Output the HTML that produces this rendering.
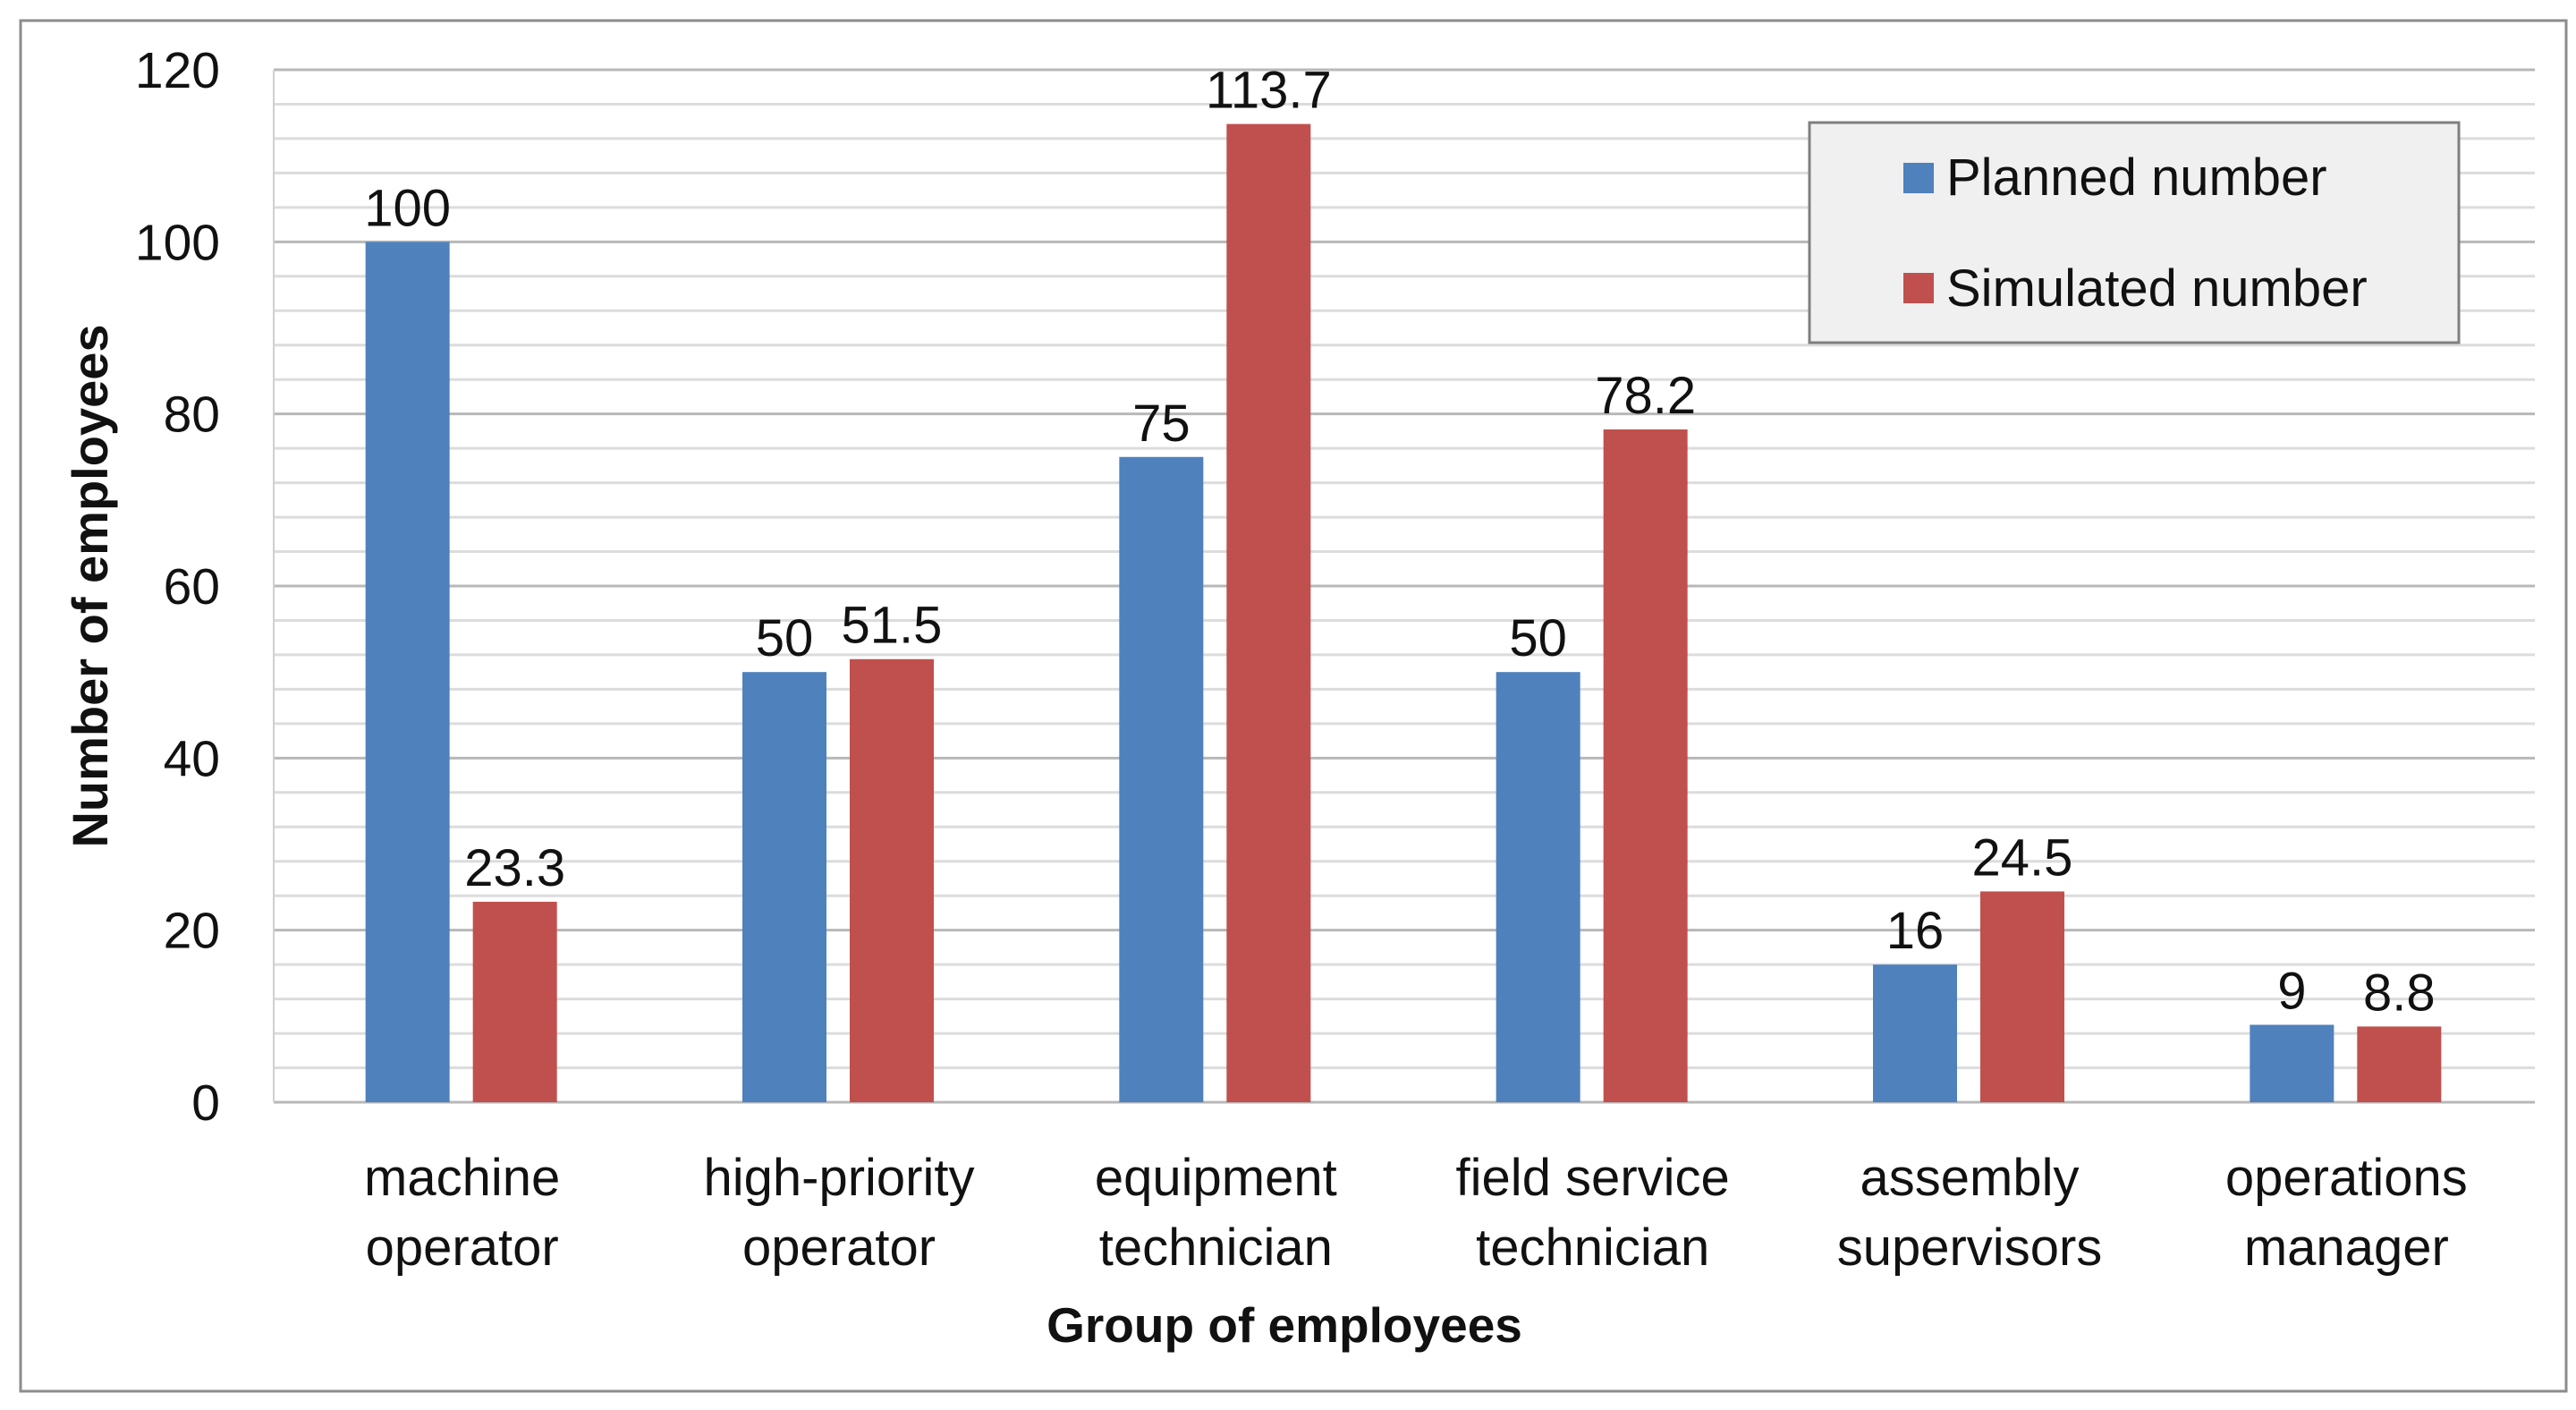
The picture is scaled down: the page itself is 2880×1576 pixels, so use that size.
<!DOCTYPE html>
<html><head><meta charset="utf-8"><style>
html,body{margin:0;padding:0;background:#fff;}
svg{display:block;}
text{font-family:"Liberation Sans",sans-serif;fill:#111;}
</style></head><body>
<svg id="chart" width="2880" height="1576" viewBox="0 0 2880 1576">
<rect x="23" y="23" width="2846" height="1532" fill="#fff" stroke="#8c8c8c" stroke-width="3"/>
<g id="grid"></g>
<g id="bars"></g>
<g id="labels"></g>
<g id="yticks"></g>
<g id="xticks"></g>
<text x="105" y="655" font-size="56" font-weight="bold" text-anchor="middle" dominant-baseline="middle" transform="rotate(-90 105 655)">Number of employees</text>
<text x="1436" y="1500" font-size="55" font-weight="bold" text-anchor="middle">Group of employees</text>
<g>
<rect x="2023" y="137" width="726" height="246" fill="#f0f0f0" stroke="#7f7f7f" stroke-width="3"/>
<rect x="2128" y="182" width="34" height="34" fill="#4f81bd"/>
<text x="2176" y="218" font-size="58">Planned number</text>
<rect x="2128" y="305" width="34" height="34" fill="#c0504d"/>
<text x="2176" y="342" font-size="58">Simulated number</text>
</g>
</svg>
<script>
const categories = [["machine","operator"],["high-priority","operator"],["equipment","technician"],["field service","technician"],["assembly","supervisors"],["operations","manager"]];
const planned = [100, 50, 75, 50, 16, 9];
const simulated = [23.3, 51.5, 113.7, 78.2, 24.5, 8.8];
const plannedLabels = ["100","50","75","50","16","9"];
const simulatedLabels = ["23.3","51.5","113.7","78.2","24.5","8.8"];
const yTicks = [0,20,40,60,80,100,120];

const NS="http://www.w3.org/2000/svg";
const L=306,R=2834,T=78,B=1232,YMAX=120;
const y=v=>B-(v/YMAX)*(B-T);
const gw=(R-L)/categories.length;
const xc=i=>L+gw*(i+0.5);
function mk(tag,attrs,parent){const e=document.createElementNS(NS,tag);for(const k in attrs)e.setAttribute(k,attrs[k]);document.getElementById(parent).appendChild(e);return e;}
for(let v=0;v<=YMAX;v+=4){
  const major=v%20===0;
  const ln=mk('line',{x1:L,x2:R,y1:y(v),y2:y(v),stroke:major?'#b8b8b8':'#dcdcdc','stroke-width':3},'grid');
  
  
}
const ax=mk('line',{x1:L,x2:L,y1:T,y2:B,stroke:'#d0d0d0','stroke-width':2},'grid');


yTicks.forEach(v=>{
  const t=mk('text',{x:246,y:y(v)+20,'font-size':57,'text-anchor':'end'},'yticks');
  t.textContent=v;
  
  
});
const bw=94;
categories.forEach((c,i)=>{
  const cx=xc(i);
  const bx1=cx-108, bx2=cx+12;
  const b1=mk('rect',{x:bx1,y:y(planned[i]),width:bw,height:B-y(planned[i]),fill:'#4f81bd'},'bars');
  
  
  const b2=mk('rect',{x:bx2,y:y(simulated[i]),width:bw,height:B-y(simulated[i]),fill:'#c0504d'},'bars');
  
  
  const l1=mk('text',{x:bx1+bw/2,y:y(planned[i])-18,'font-size':58,'text-anchor':'middle'},'labels');
  l1.textContent=plannedLabels[i];
  
  
  const l2=mk('text',{x:bx2+bw/2,y:y(simulated[i])-18,'font-size':58,'text-anchor':'middle'},'labels');
  l2.textContent=simulatedLabels[i];
  
  
  c.forEach((line,j)=>{
    const t=mk('text',{x:cx,y:1336+j*78,'font-size':58,'text-anchor':'middle'},'xticks');
    t.textContent=line;
    
    
  });
});
</script>
</body></html>
